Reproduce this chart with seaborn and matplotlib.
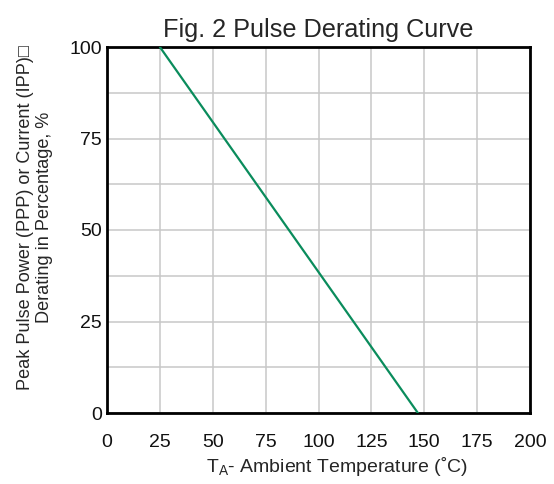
import numpy as np
import pandas as pd
import matplotlib
matplotlib.use('Agg')
import matplotlib.pyplot as plt
import seaborn as sns

# Derating curve
temperature = [25, 147]
derating = [100, 0]

x_ticks = [0, 25, 50, 75, 100, 125, 150, 175, 200]
y_ticks = [0, 25, 50, 75, 100]
y_minor = [12.5, 37.5, 62.5, 87.5]

sns.set_style('white')
plt.rcParams['font.family'] = ['Liberation Sans', 'DejaVu Sans']

df = pd.DataFrame({'temp': temperature, 'pct': derating})

fig = plt.figure(figsize=(5.54, 4.84), dpi=100)
ax = fig.add_axes([107 / 554, 71 / 484, 423 / 554, 366 / 484])

sns.lineplot(data=df, x='temp', y='pct', color='#0a8c5c', linewidth=1.6, ax=ax, zorder=3)

ax.set_xlim(0, 200)
ax.set_ylim(0, 100)
ax.set_xticks(x_ticks)
ax.set_yticks(y_ticks)
ax.set_yticks(y_minor, minor=True)
ax.tick_params(axis='both', which='both', length=0, labelsize=14, colors='#111111')
ax.tick_params(axis='x', pad=15)
ax.tick_params(axis='y', pad=3.5)
ax.grid(True, which='both', color='#c8c8c8', linewidth=1.1)
ax.set_axisbelow(True)

for s in ax.spines.values():
    s.set_visible(True)
    s.set_color('black')
    s.set_linewidth(2)

ax.set_title('Fig. 2 Pulse Derating Curve', fontsize=18.2, pad=7)
ax.set_xlabel('T$_\\mathregular{A}$- Ambient Temperature (˚C)', fontsize=14, labelpad=4)
ax.xaxis.set_label_coords(0.544, -0.115)
ax.set_ylabel('Peak Pulse Power (PPP) or Current (IPP)□\nDerating in Percentage, %',
              fontsize=13.1, linespacing=1.15)
ax.yaxis.set_label_coords(-0.128, 0.535)

fig.savefig('out.png', dpi=100)
